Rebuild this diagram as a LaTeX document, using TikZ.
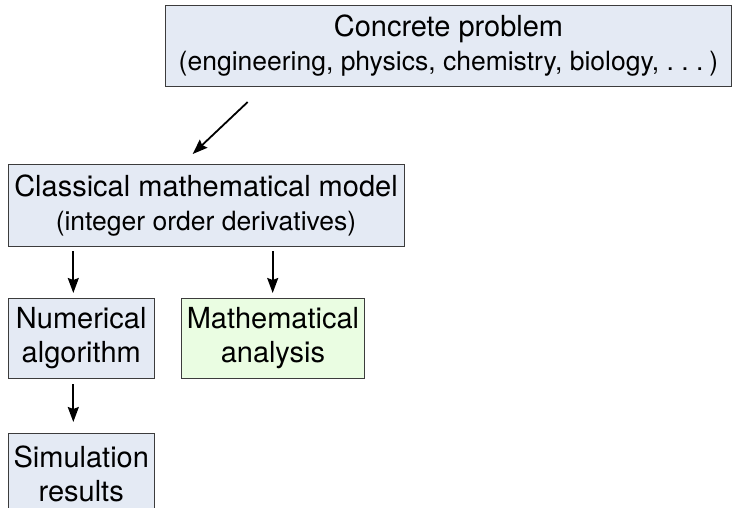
\documentclass[tikz,border=0pt]{standalone}
\usepackage{fontspec}
\setmainfont{TeX Gyre Heros}
\usetikzlibrary{arrows.meta,positioning}
\definecolor{boxblue}{RGB}{228,234,244}
\definecolor{boxgreen}{RGB}{234,253,226}
\definecolor{boxline}{RGB}{60,60,60}
\tikzset{
  box/.style={draw=boxline, line width=1pt, fill=boxblue, anchor=north west,
    inner sep=0pt, align=center, font=\fontsize{29}{34}\selectfont},
  greenbox/.style={box, fill=boxgreen},
  conn/.style={line width=1.8pt, -{Stealth[length=15pt,width=11pt,inset=2pt]}}
}
\newcommand{\smalltxt}[1]{{\fontsize{26.5}{34}\selectfont #1}}
\newcommand{\spdots}{.\hspace{0.28em}.\hspace{0.28em}.\hspace{0.22em}}
\begin{document}
\begin{tikzpicture}[x=1pt,y=-1pt]
\useasboundingbox (0,0) rectangle (732,507);
\node[box, minimum width=566pt, minimum height=81pt] (cp) at (165,5)
  {Concrete problem\\\smalltxt{(engineering, physics, chemistry, biology, \spdots)}};
\node[box, minimum width=396pt, minimum height=82pt] (cm) at (7.5,164)
  {Classical mathematical model\\\smalltxt{(integer order derivatives)}};
\node[box, minimum width=146.5pt, minimum height=80pt] (na) at (7.5,298)
  {Numerical\\algorithm};
\node[greenbox, minimum width=183.5pt, minimum height=80pt] (ma) at (180.7,298)
  {Mathematical\\analysis};
\node[box, minimum width=146.5pt, minimum height=80pt] (sr) at (7.5,433)
  {Simulation\\results};
\draw[conn] ([xshift=82.7pt,yshift=-15pt]cp.south west) -- ([xshift=185.2pt,yshift=10pt]cm.north west);
\draw[conn] ([xshift=65.8pt,yshift=-4pt]cm.south west) -- ([xshift=65.8pt,yshift=5pt]na.north west);
\draw[conn] ([xshift=265.2pt,yshift=-4pt]cm.south west) -- ([xshift=265.2pt,yshift=5pt]cm.south west |- ma.north);
\draw[conn] ([xshift=65.8pt,yshift=-5pt]na.south west) -- ([xshift=65.8pt,yshift=11pt]sr.north west);
\end{tikzpicture}
\end{document}
